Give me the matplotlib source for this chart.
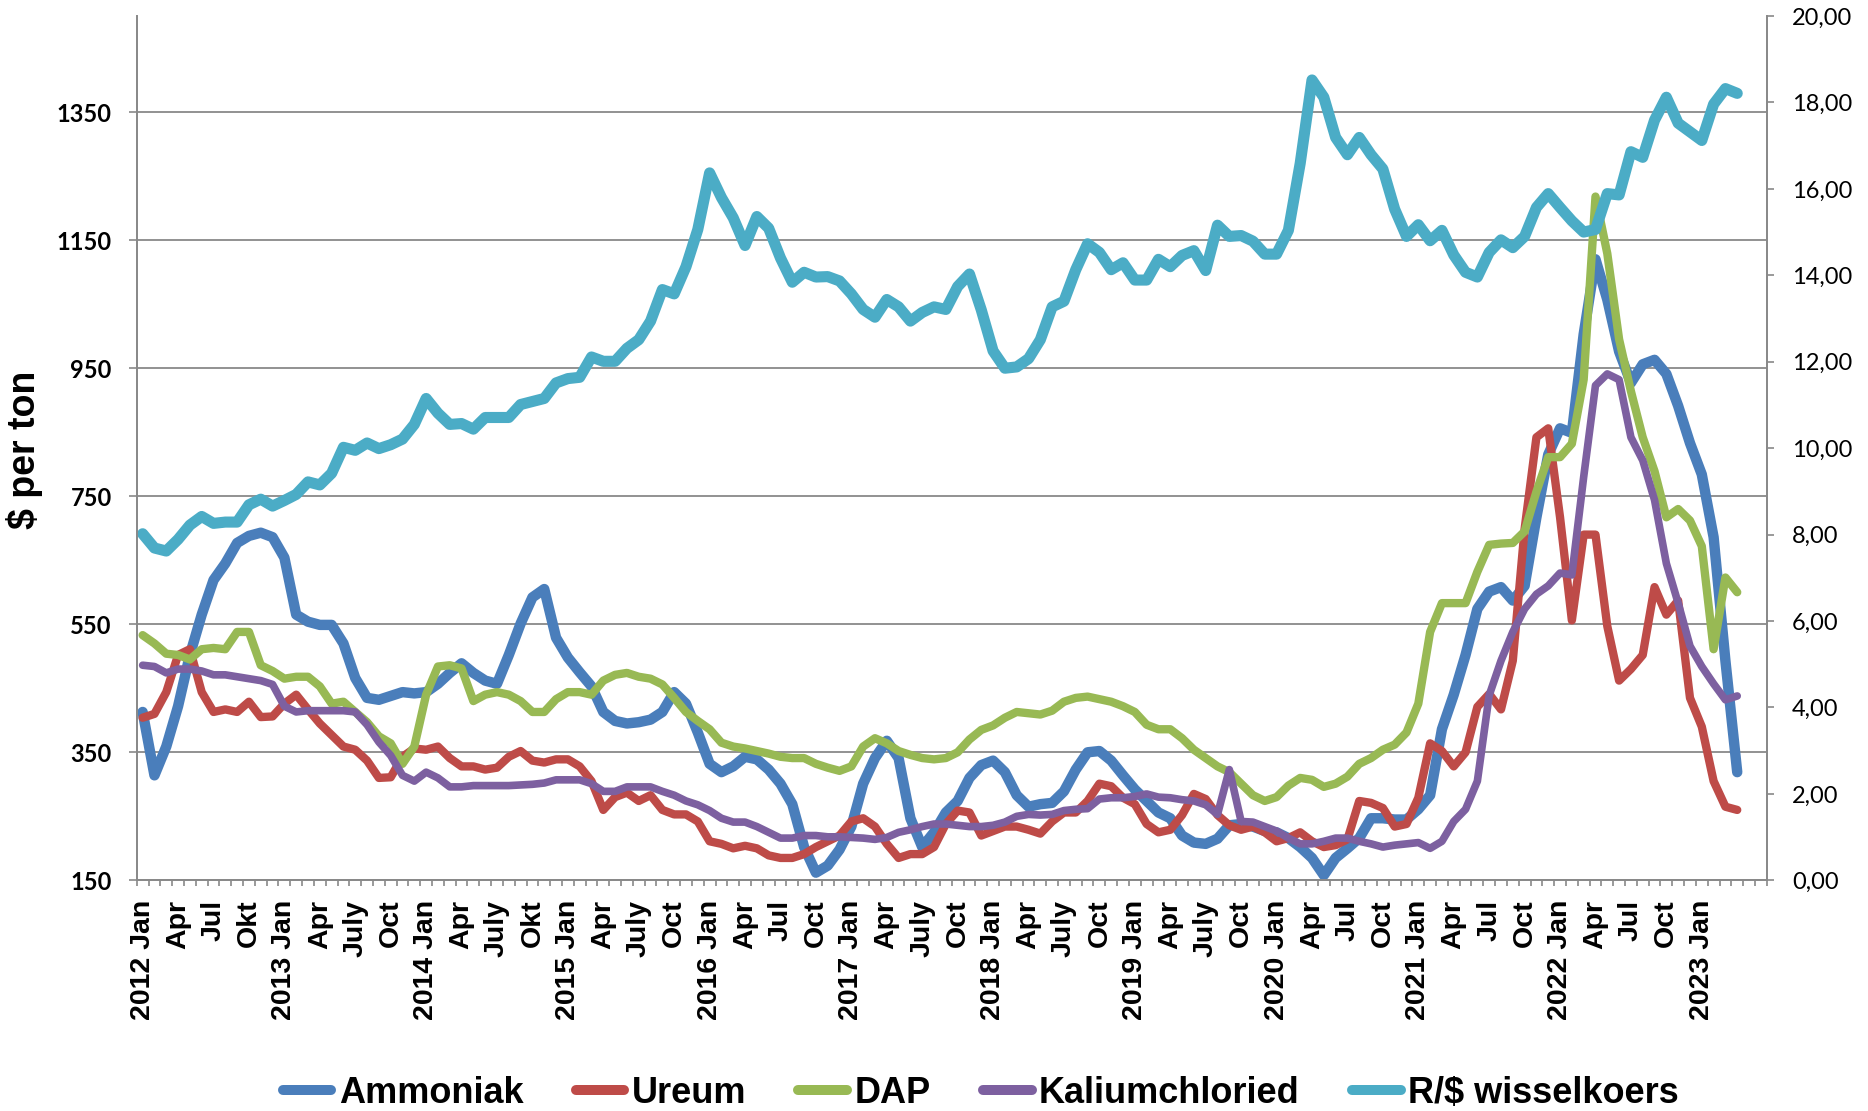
import matplotlib
matplotlib.use('Agg')
import matplotlib.pyplot as plt
import numpy as np

plt.rcParams['text.parse_math'] = False

# monthly prices, Jan 2012 .. Apr 2023
months = ['Jan', 'Feb', 'Mrt', 'Apr', 'Mei', 'Jun', 'Jul', 'Aug', 'Sep', 'Okt', 'Nov', 'Des']
categories = ['%d %s' % (y, m) for y in range(2012, 2024) for m in months][:136]

ammoniak = [413, 314, 359, 422, 502, 565, 619, 645, 677, 688, 693, 686,
            654, 565, 554, 549, 549, 520, 466, 435, 432, 438, 444, 442,
            444, 457, 474, 489, 474, 462, 457, 502, 551, 592, 605, 529,
            498, 475, 453, 413, 399, 395, 397, 401, 413, 444, 426, 381,
            332, 319, 328, 343, 339, 323, 301, 269, 202, 162, 173, 198,
            234, 301, 341, 368, 341, 247, 202, 225, 256, 274, 310, 330,
            337, 319, 283, 265, 269, 271, 289, 323, 350, 352, 337, 314,
            292, 274, 256, 247, 220, 209, 207, 215, 236, 238, 234, 227,
            225, 216, 202, 185, 158, 185, 200, 216, 247, 247, 245, 245,
            261, 283, 386, 440, 502, 574, 601, 608, 587, 610, 717, 815,
            856, 849, 1003, 1120, 1057, 976, 927, 956, 963, 941, 891, 833,
            784, 686, 493, 319]

ureum = [404, 410, 444, 502, 511, 444, 413, 417, 413, 429, 405, 406,
         426, 440, 417, 395, 377, 359, 354, 337, 310, 311, 343, 356,
         354, 359, 341, 328, 328, 323, 326, 343, 352, 337, 334, 339,
         339, 328, 305, 260, 280, 287, 274, 283, 260, 253, 253, 242,
         211, 207, 200, 204, 200, 189, 185, 185, 191, 202, 211, 220,
         242, 247, 234, 207, 185, 191, 191, 202, 238, 259, 256, 220,
         227, 234, 234, 229, 223, 242, 256, 256, 274, 301, 297, 279,
         269, 238, 225, 229, 252, 285, 277, 252, 236, 229, 234, 225,
         211, 216, 225, 211, 202, 205, 214, 274, 271, 263, 234, 238,
         279, 364, 352, 328, 350, 421, 441, 417, 493, 699, 842, 856,
         717, 556, 690, 690, 547, 462, 480, 502, 608, 565, 587, 435,
         390, 305, 265, 260]

dap = [533, 520, 504, 502, 495, 511, 513, 511, 538, 538, 486, 477,
       465, 468, 468, 453, 426, 429, 413, 397, 375, 364, 332, 359,
       440, 484, 486, 481, 430, 440, 444, 440, 430, 413, 413, 433,
       444, 444, 440, 462, 471, 474, 468, 465, 456, 435, 413, 399,
       386, 365, 359, 356, 352, 348, 343, 341, 341, 332, 326, 321,
       328, 359, 372, 364, 352, 346, 341, 339, 341, 350, 370, 385,
       392, 404, 413, 411, 409, 415, 429, 435, 437, 433, 429, 422,
       413, 393, 386, 386, 372, 354, 341, 328, 319, 301, 283, 274,
       280, 298, 310, 307, 296, 301, 312, 332, 341, 354, 362, 381,
       426, 538, 583, 583, 583, 632, 674, 676, 677, 695, 757, 811,
       811, 832, 932, 1218, 1129, 995, 914, 842, 789, 717, 730, 712,
       672, 511, 623, 600]

kalium = [486, 484, 474, 480, 480, 477, 471, 471, 468, 465, 462, 456,
          422, 413, 415, 415, 415, 415, 413, 393, 366, 345, 314, 305,
          319, 310, 296, 296, 298, 298, 298, 298, 299, 300, 302, 307,
          307, 307, 301, 289, 289, 296, 296, 296, 289, 283, 274, 268,
          259, 247, 241, 241, 234, 225, 216, 216, 220, 220, 218, 218,
          217, 216, 214, 217, 225, 229, 234, 238, 238, 236, 234, 234,
          236, 241, 250, 253, 252, 253, 259, 261, 262, 277, 279, 279,
          281, 285, 280, 279, 276, 274, 268, 253, 323, 242, 241, 234,
          227, 216, 207, 207, 211, 216, 216, 211, 207, 202, 205, 207,
          209, 200, 211, 242, 261, 305, 439, 493, 538, 574, 597, 610,
          630, 627, 780, 923, 941, 932, 842, 806, 744, 645, 583, 516,
          484, 457, 432, 438]

wisselkoers = [8.02, 7.69, 7.62, 7.89, 8.22, 8.42, 8.26, 8.29, 8.29, 8.69, 8.82, 8.66,
               8.79, 8.93, 9.22, 9.15, 9.42, 10.02, 9.95, 10.12, 9.99, 10.08, 10.21, 10.55,
               11.15, 10.81, 10.55, 10.57, 10.44, 10.71, 10.71, 10.71, 11.01, 11.08, 11.15, 11.51,
               11.61, 11.64, 12.11, 12.01, 12.01, 12.31, 12.51, 12.94, 13.67, 13.57, 14.20, 15.06,
               16.37, 15.80, 15.33, 14.69, 15.36, 15.09, 14.40, 13.84, 14.07, 13.96, 13.97, 13.87,
               13.57, 13.21, 13.03, 13.44, 13.27, 12.94, 13.14, 13.27, 13.21, 13.74, 14.03, 13.20,
               12.25, 11.85, 11.88, 12.07, 12.51, 13.27, 13.40, 14.13, 14.73, 14.53, 14.13, 14.29,
               13.89, 13.89, 14.37, 14.20, 14.46, 14.57, 14.11, 15.16, 14.90, 14.92, 14.79, 14.49,
               14.49, 15.04, 16.59, 18.52, 18.12, 17.19, 16.79, 17.19, 16.79, 16.46, 15.53, 14.90,
               15.17, 14.80, 15.04, 14.47, 14.07, 13.96, 14.53, 14.82, 14.64, 14.90, 15.57, 15.89,
               15.57, 15.26, 15.00, 15.06, 15.89, 15.86, 16.86, 16.73, 17.59, 18.12, 17.52, 17.32,
               17.12, 17.96, 18.32, 18.21]

tick_labels = ['2012 Jan', 'Apr', 'Jul', 'Okt', '2013 Jan', 'Apr', 'July', 'Oct',
               '2014 Jan', 'Apr', 'July', 'Okt', '2015 Jan', 'Apr', 'July', 'Oct',
               '2016 Jan', 'Apr', 'Jul', 'Oct', '2017 Jan', 'Apr', 'July', 'Oct',
               '2018 Jan', 'Apr', 'July', 'Oct', '2019 Jan', 'Apr', 'July', 'Oct',
               '2020 Jan', 'Apr', 'Jul', 'Oct', '2021 Jan', 'Apr', 'Jul', 'Oct',
               '2022 Jan', 'Apr', 'Jul', 'Oct', '2023 Jan']

n_cats = 138   # axis runs to Jun 2023, data stops in Apr
x = np.arange(len(categories))

grey = '#898989'
arial = 'Liberation Sans'

fig = plt.figure(figsize=(18.68, 11.11), dpi=100)
ax = fig.add_axes([0.0732, 0.2076, 0.8726, 0.778])
ax2 = ax.twinx()

series = [
    (ax, ammoniak, 'Ammoniak', '#4A7EBB', 7.5),
    (ax, ureum, 'Ureum', '#BE4B48', 6.0),
    (ax, dap, 'DAP', '#98B954', 6.0),
    (ax, kalium, 'Kaliumchloried', '#7D60A0', 5.5),
    (ax2, wisselkoers, 'R/$ wisselkoers', '#4BACC6', 8.0),
]
handles = []
for a, vals, name, col, lw in series:
    ln, = a.plot(x, vals, color=col, lw=lw, label=name,
                 solid_joinstyle='round', solid_capstyle='round')
    handles.append(ln)

ax.set_xlim(-0.5, n_cats - 0.5)
ax.set_ylim(150, 1500)
ax2.set_ylim(0, 20)

ax.set_yticks(np.arange(150, 1351, 200))
ax.grid(axis='y', color=grey, lw=1.3)
ax.set_axisbelow(True)
ax.tick_params(axis='y', length=6, width=1.2, color=grey, pad=12)
for lab in ax.get_yticklabels():
    lab.set_fontfamily('Lato')
    lab.set_fontweight('bold')
    lab.set_fontsize(17)

ax2.set_yticks(np.arange(0, 21, 2))
ax2.set_yticklabels([('%.2f' % v).replace('.', ',') for v in np.arange(0, 21, 2)],
                    fontfamily='Lato', fontsize=17)
ax2.tick_params(axis='y', length=5, width=1.2, color=grey, pad=13)

ax.set_xticks(np.arange(0, 133, 3))
ax.set_xticklabels(tick_labels, rotation=90, fontfamily=arial,
                   fontweight='bold', fontsize=20.5)
ax.set_xticks(np.arange(-0.5, n_cats, 1), minor=True)
ax.tick_params(axis='x', which='major', length=0, pad=14)
ax.tick_params(axis='x', which='minor', length=4.5, width=1.2, color=grey)

for a in (ax, ax2):
    a.spines['top'].set_visible(False)
    for s in ('left', 'right', 'bottom'):
        a.spines[s].set_color(grey)
        a.spines[s].set_linewidth(1.3)

fig.text(0.013, 0.595, '$ per ton', rotation=90, ha='center', va='center',
         fontfamily=arial, fontweight='bold', fontsize=27)

leg = fig.legend(handles=handles, loc='center', bbox_to_anchor=(0.525, 0.016),
                 ncol=5, frameon=False, handlelength=1.35, handletextpad=0.2,
                 columnspacing=1.45, prop={'family': arial, 'weight': 'bold', 'size': 26})
for l in leg.get_lines():
    l.set_linewidth(7.2)
    l.set_solid_capstyle('round')

fig.savefig('out.png', dpi=100)
